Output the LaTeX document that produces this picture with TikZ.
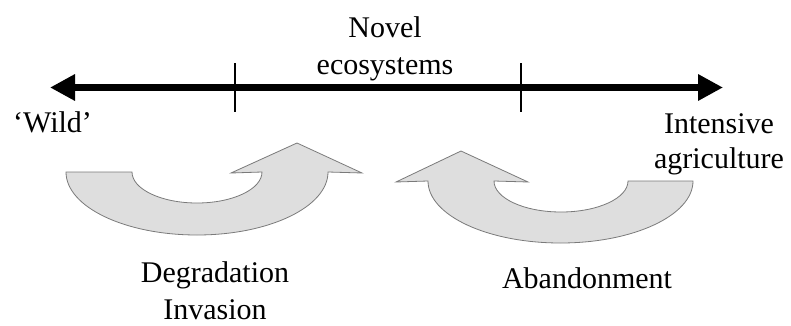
\documentclass[tikz,border=0pt]{standalone}
\usepackage{fontspec}
\setmainfont{Liberation Serif}
\usetikzlibrary{arrows.meta}
\definecolor{arrowfill}{HTML}{DEDEDE}
\definecolor{arrowedge}{HTML}{7A7A7A}
\begin{document}
\begin{tikzpicture}[x=1pt,y=1pt,
  lbl/.style={font=\fontsize{30}{37}\selectfont, inner sep=0pt, align=center},
  axis/.style={line width=6.5pt, {Triangle[length=25pt,width=25pt]}-{Triangle[length=25pt,width=25pt]}},
  tickline/.style={line width=2.8pt},
  curvedarrow/.style={fill=arrowfill, draw=arrowedge, line width=0.8pt, line join=miter}]
\useasboundingbox (0,0) rectangle (791,325);
% main axis
\coordinate (W) at (50,237.5);
\coordinate (E) at (723,237.5);
\draw[axis] (W) -- (E);
\coordinate (t1a) at (235,262); \coordinate (t1b) at (235,213);
\coordinate (t2a) at (521,262); \coordinate (t2b) at (521,213);
\draw[tickline] (t1a) -- (t1b);
\draw[tickline] (t2a) -- (t2b);
% labels (anchor=base is the baseline of the last line)
\node[lbl, anchor=base] (novel) at (385,251) {Novel\\ecosystems};
\node[lbl, anchor=base west] (wild) at (13,193) {‘Wild’};
\node[lbl, anchor=base, font=\fontsize{30}{35}\selectfont] (intens) at (719,157) {Intensive\\agriculture};
\node[lbl, anchor=base] (degr) at (215,6) {Degradation\\Invasion};
\node[lbl, anchor=base] (aband) at (587,37) {Abandonment};
% left curved arrow (degradation)
\draw[curvedarrow] (66,153) arc[start angle=180, end angle=360, x radius=131, y radius=63]
  -- (362,152) -- (297,182) -- (231,152) -- (262,153)
  arc[start angle=0, end angle=-180, x radius=65, y radius=31] -- cycle;
% right curved arrow (abandonment)
\draw[curvedarrow] (693,144) arc[start angle=0, end angle=-180, x radius=132.5, y radius=62]
  -- (396,143) -- (461,174) -- (528,143) -- (494,144)
  arc[start angle=180, end angle=360, x radius=67, y radius=31] -- cycle;
\end{tikzpicture}
\end{document}
